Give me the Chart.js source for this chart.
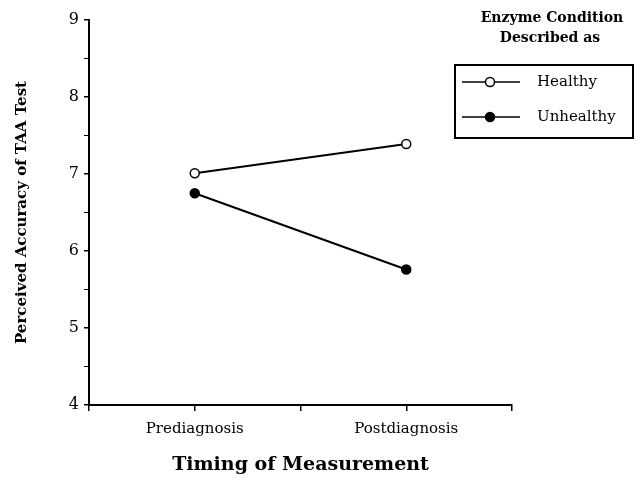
<!DOCTYPE html>
<html>
<head>
<meta charset="utf-8">
<script src="https://cdn.jsdelivr.net/npm/chart.js@4"></script>
<style>
  body { margin: 0; background: #fff; }
  #wrap { width: 640px; height: 487px; }
</style>
</head>
<body>
<div id="wrap"><canvas id="myChart"></canvas></div>
<script>
// categories on the x axis (blank slots give the spacing of the original)
var timing = ['', 'Prediagnosis', '', 'Postdiagnosis', ''];
// perceived accuracy, per enzyme condition
var healthy = [null, 7.01, null, 7.39, null];
var unhealthy = [null, 6.75, null, 5.76, null];
var legendTitle = ['Enzyme Condition', 'Described as'];

var serif = "'DejaVu Serif', 'Liberation Serif', serif";

// legend drawn inside a box, like the printed figure
var boxLegend = {
    id: 'boxLegend',
    afterDraw: function (chart) {
        var c = chart.ctx;
        c.save();
        c.fillStyle = '#000';
        c.textAlign = 'center';
        c.textBaseline = 'middle';
        c.font = 'bold 14px ' + serif;
        c.fillText(legendTitle[0], 552, 18);
        c.fillText(legendTitle[1], 550, 38);

        c.strokeStyle = '#000';
        c.lineWidth = 2;
        c.strokeRect(455, 65, 178, 73);

        var rows = [82, 117];
        chart.data.datasets.forEach(function (ds, i) {
            var y = rows[i];
            c.beginPath();
            c.lineWidth = 1.5;
            c.strokeStyle = ds.borderColor;
            c.moveTo(462, y);
            c.lineTo(520, y);
            c.stroke();
            c.beginPath();
            c.arc(490, y, ds.pointRadius, 0, Math.PI * 2);
            c.fillStyle = ds.pointBackgroundColor;
            c.fill();
            c.stroke();
            c.fillStyle = '#000';
            c.textAlign = 'left';
            c.font = '15px ' + serif;
            c.fillText(ds.label, 537, y);
        });
        c.restore();
    }
};

var ctx = document.getElementById('myChart');
var myChart = new Chart(ctx, {
    type: 'line',
    data: {
        labels: timing,
        datasets: [
            {
                label: 'Healthy',
                data: healthy,
                borderColor: '#000',
                borderWidth: 2,
                pointBackgroundColor: '#fff',
                pointBorderColor: '#000',
                pointBorderWidth: 1.5,
                pointRadius: 4.5,
                spanGaps: true,
                fill: false
            },
            {
                label: 'Unhealthy',
                data: unhealthy,
                borderColor: '#000',
                borderWidth: 2,
                pointBackgroundColor: '#000',
                pointBorderColor: '#000',
                pointBorderWidth: 1.5,
                pointRadius: 4.5,
                spanGaps: true,
                fill: false
            }
        ]
    },
    options: {
        responsive: true,
        maintainAspectRatio: false,
        animation: false,
        layout: {
            padding: { left: 0, top: 20, right: 128, bottom: 0 }
        },
        plugins: {
            legend: { display: false },
            tooltip: { enabled: false }
        },
        scales: {
            x: {
                offset: false,
                afterFit: function (scale) { scale.height = 82; },
                border: { display: true, color: '#000', width: 2 },
                grid: {
                    drawOnChartArea: false,
                    drawTicks: true,
                    tickLength: 6,
                    color: '#000',
                    lineWidth: 1.5
                },
                ticks: {
                    color: '#000',
                    padding: 9,
                    maxRotation: 0,
                    autoSkip: false,
                    font: { family: serif, size: 15 }
                },
                title: {
                    display: true,
                    text: 'Timing of Measurement',
                    color: '#000',
                    padding: { top: 0, bottom: 11 },
                    font: { family: serif, size: 19, weight: 'bold' }
                }
            },
            y: {
                min: 4,
                max: 9,
                afterFit: function (scale) { scale.width = 89; },
                border: { display: true, color: '#000', width: 2 },
                grid: {
                    drawOnChartArea: false,
                    drawTicks: true,
                    tickLength: 5,
                    color: '#000',
                    lineWidth: function (c) {
                        return Number.isInteger(c.tick.value) ? 1.5 : 1;
                    }
                },
                ticks: {
                    stepSize: 0.5,
                    color: '#000',
                    padding: 5,
                    font: { family: serif, size: 16 },
                    callback: function (val) {
                        return Number.isInteger(val) ? val : '';
                    }
                },
                title: {
                    display: true,
                    text: 'Perceived Accuracy of TAA Test',
                    color: '#000',
                    padding: { top: 13, bottom: 0 },
                    font: { family: serif, size: 15, weight: 'bold' }
                }
            }
        }
    },
    plugins: [boxLegend]
});
</script>
</body>
</html>
